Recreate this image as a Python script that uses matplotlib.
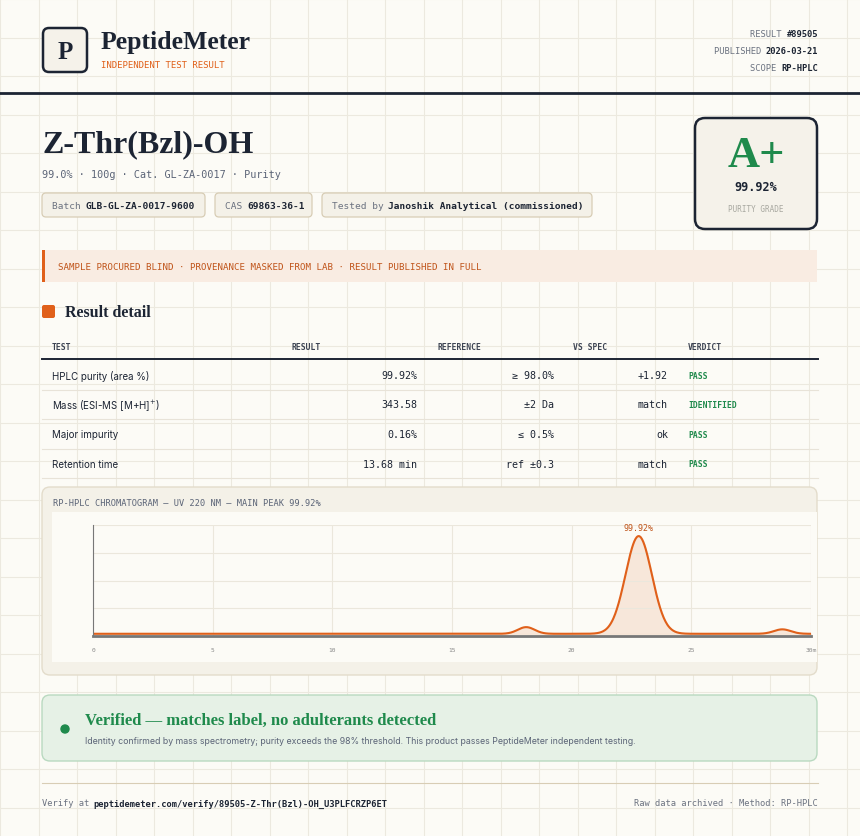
import numpy as np
import matplotlib
matplotlib.use("Agg")
import matplotlib.pyplot as plt
from matplotlib.patches import FancyBboxPatch, Rectangle

W, H = 860, 837
SERIF = "Liberation Serif"
MONO = "DejaVu Sans Mono"
SANS = "Inter"
INK = "#1c2433"
MUTED = "#6b7280"
ORANGE = "#e0601a"
GREEN = "#1f8a4c"
BG = "#fcfbf6"

# table data
tests = ["HPLC purity (area %)", "Mass (ESI-MS [M+H]$^{+}$)", "Major impurity", "Retention time"]
results = ["99.92%", "343.58", "0.16%", "13.68 min"]
references = ["≥ 98.0%", "±2 Da", "≤ 0.5%", "ref ±0.3"]
vs_spec = ["+1.92", "match", "ok", "match"]
verdicts = ["PASS", "IDENTIFIED", "PASS", "PASS"]

# chromatogram peaks (retention min, height, width)
peak_rt = [18.1, 22.8, 28.8]
peak_h = [0.06, 0.88, 0.04]
peak_w = [0.35, 0.55, 0.35]
baseline = 0.02
x_ticks = [0, 5, 10, 15, 20, 25, 30]

fig = plt.figure(figsize=(W / 100, H / 100), dpi=100, facecolor=BG)
ax = fig.add_axes([0, 0, 1, 1])
ax.set_xlim(0, W)
ax.set_ylim(H, 0)
ax.axis("off")

# background grid
for gx in np.arange(0, W, 38.5):
    ax.axvline(gx, color="#ece9df", lw=0.8, zorder=0)
for gy in np.arange(0, H, 38.5):
    ax.axhline(gy, color="#ece9df", lw=0.8, zorder=0)


def box(x, y, w, h, fc, ec, lw=1, r=4, z=1):
    ax.add_patch(FancyBboxPatch((x, y), w, h, boxstyle=f"round,pad=0,rounding_size={r}",
                                fc=fc, ec=ec, lw=lw, zorder=z))


# header
box(43, 29, 44, 44, "#f5f2ea", INK, lw=1.8, r=6)
ax.text(65, 52, "P", fontsize=18, family=SERIF, ha="center", va="center", color=INK, weight="bold")
ax.text(101, 42, "PeptideMeter", fontsize=18.5, family=SERIF, va="center", color=INK, weight="bold")
ax.text(101, 65, "INDEPENDENT TEST RESULT", fontsize=6.5, family=MONO, va="center", color=ORANGE)
for yy, lab, val in [(34, "RESULT ", "#89505"), (51, "PUBLISHED ", "2026-03-21"), (68, "SCOPE ", "RP-HPLC")]:
    ax.text(818, yy, val, fontsize=6.3, family=MONO, ha="right", va="center", color=INK, weight="bold")
    ax.text(818 - len(val) * 5.2, yy, lab, fontsize=6.3, family=MONO, ha="right", va="center", color=MUTED)
ax.plot([0, W], [94, 94], color=INK, lw=2)

# title block
ax.text(42, 145, "Z-Thr(Bzl)-OH", fontsize=23, family=SERIF, va="center", color=INK, weight="bold")
ax.text(42, 175, "99.0% · 100g · Cat. GL-ZA-0017 · Purity", fontsize=7.3, family=MONO, va="center", color="#5b6477")
chips = [(42, 163, "Batch ", "GLB-GL-ZA-0017-9600"), (215, 97, "CAS ", "69863-36-1"),
         (322, 270, "Tested by ", "Janoshik Analytical (commissioned)")]
for cx, cw, lab, val in chips:
    box(cx, 194, cw, 24, "#f4f1e8", "#d8cdb5", lw=0.9, r=4)
    ax.text(cx + 10, 206, lab, fontsize=6.8, family=MONO, va="center", color=MUTED)
    ax.text(cx + 10 + len(lab) * 5.6, 206, val, fontsize=6.8, family=MONO, va="center", color=INK, weight="bold")

box(695, 119, 122, 111, "#f5f2ea", INK, lw=1.8, r=10)
ax.text(756, 156, "A+", fontsize=32, family=SERIF, ha="center", va="center", color=GREEN, weight="bold")
ax.text(756, 187, "99.92%", fontsize=8.5, family=MONO, ha="center", va="center", color=INK, weight="bold")
ax.text(756, 209, "PURITY GRADE", fontsize=5.5, family=MONO, ha="center", va="center", color="#a8a8a0")

# banner
ax.add_patch(Rectangle((42, 251), 775, 32, fc="#f9ece2", ec="none", zorder=1))
ax.add_patch(Rectangle((42, 251), 3, 32, fc=ORANGE, ec="none", zorder=2))
ax.text(58, 267, "SAMPLE PROCURED BLIND · PROVENANCE MASKED FROM LAB · RESULT PUBLISHED IN FULL",
        fontsize=6.6, family=MONO, va="center", color="#c0541a")

# result detail
box(42, 306, 13, 13, ORANGE, "none", r=2)
ax.text(65, 313, "Result detail", fontsize=11.5, family=SERIF, va="center", color=INK, weight="bold")

cols = [(52, "TEST"), (292, "RESULT"), (437, "REFERENCE"), (573, "VS SPEC"), (688, "VERDICT")]
for cx, lab in cols:
    ax.text(cx, 347, lab, fontsize=5.8, family=MONO, va="center", color="#3d4453", weight="bold")
ax.plot([42, 818], [360, 360], color=INK, lw=1.4)
for i in range(len(tests)):
    yy = 376 + i * 29.5
    ax.text(52, yy, tests[i], fontsize=7, family=SANS, va="center", color=INK)
    ax.text(417, yy, results[i], fontsize=7.2, family=MONO, ha="right", va="center", color=INK)
    ax.text(554, yy, references[i], fontsize=7.2, family=MONO, ha="right", va="center", color=INK)
    ax.text(668, yy, vs_spec[i], fontsize=7.2, family=MONO, ha="right", va="center", color=INK)
    ax.text(688, yy, verdicts[i], fontsize=5.8, family=MONO, va="center", color=GREEN, weight="bold")
    ax.plot([42, 818], [yy + 14.5, yy + 14.5], color="#e8e3d8", lw=0.8)

# chromatogram panel
box(42, 488, 775, 188, "#f4f1e8", "#e3dccb", lw=1, r=8)
ax.text(53, 503, "RP-HPLC CHROMATOGRAM — UV 220 NM — MAIN PEAK 99.92%", fontsize=6.2,
        family=MONO, va="center", color="#5b6477")
ax.add_patch(Rectangle((52, 513), 765, 150, fc=BG, ec="none", zorder=1))

cax = fig.add_axes([93 / W, 1 - 637 / H, (811 - 93) / W, (637 - 526) / H])
cax.set_facecolor(BG)
rt = np.linspace(0, 30, 1200)
signal = np.full_like(rt, baseline)
for c, h, w in zip(peak_rt, peak_h, peak_w):
    signal += h * np.exp(-0.5 * ((rt - c) / w) ** 2)
cax.fill_between(rt, baseline, signal, color="#f6e3d3", alpha=0.8)
cax.plot(rt, signal, color=ORANGE, lw=1.5)
imax = np.argmax(signal)
cax.text(rt[imax], signal[imax] + 0.04, "99.92%", fontsize=6, family=MONO, ha="center",
         va="bottom", color="#c0541a")
cax.set_xlim(0, 30)
cax.set_ylim(0, 1.0)
cax.set_xticks(x_ticks)
cax.set_xticklabels([str(t) if t < 30 else "30m" for t in x_ticks], fontsize=4.5, family=MONO, color="#888")
cax.set_yticks([0.25, 0.5, 0.75, 1.0])
cax.set_yticklabels([])
cax.tick_params(length=0, pad=8)
cax.grid(color="#ebe7dc", lw=0.8)
for s in ["top", "right"]:
    cax.spines[s].set_visible(False)
cax.spines["left"].set_color("#777")
cax.spines["bottom"].set_color("#777")
cax.spines["bottom"].set_linewidth(2)

# verified
box(42, 696, 775, 66, "#e6f1e6", "#b9d9c0", lw=1, r=8)
ax.add_patch(plt.Circle((65, 730), 4, color=GREEN, zorder=3))
ax.text(85, 721, "Verified — matches label, no adulterants detected", fontsize=12, family=SERIF,
        va="center", color=GREEN, weight="bold")
ax.text(85, 742, "Identity confirmed by mass spectrometry; purity exceeds the 98% threshold. "
        "This product passes PeptideMeter independent testing.", fontsize=6.3, family=SANS,
        va="center", color="#5b6477")

ax.plot([42, 818], [784, 784], color="#d8cdb5", lw=0.8)
ax.text(42, 804, "Verify at ", fontsize=6.3, family=MONO, va="center", color=MUTED)
ax.text(93, 804, "peptidemeter.com/verify/89505-Z-Thr(Bzl)-OH_U3PLFCRZP6ET", fontsize=6.3,
        family=MONO, va="center", color=INK, weight="bold")
ax.text(818, 804, "Raw data archived · Method: RP-HPLC", fontsize=6.3, family=MONO,
        ha="right", va="center", color=MUTED)

fig.savefig("out.png", dpi=100, facecolor=BG)
